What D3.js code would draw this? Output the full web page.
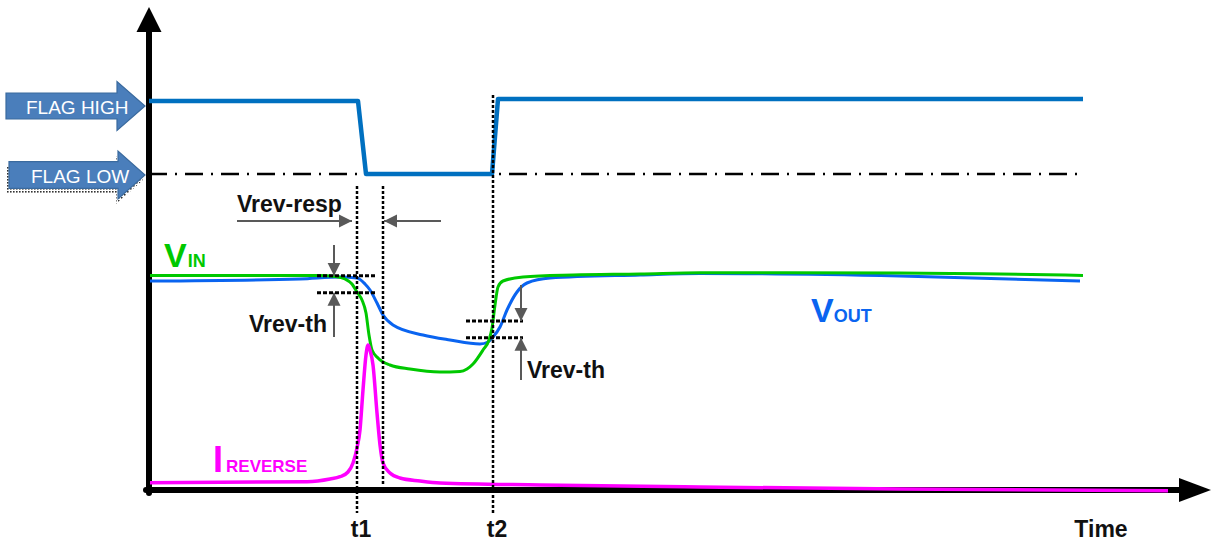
<!DOCTYPE html>
<html>
<head>
<meta charset="utf-8">
<script src="https://cdn.jsdelivr.net/npm/d3@7"></script>
<style>
  html, body { margin: 0; padding: 0; background: #ffffff; }
  svg { display: block; }
  text { font-family: "Liberation Sans", Arial, sans-serif; }
</style>
</head>
<body>
<svg id="chart" width="1211" height="542"></svg>
<script>
// ---------------- data (time units, signal units) ----------------
const flagT = [0, 20.9, 21.7, 34.3, 34.9, 93.4];
const flagV = [38.9, 38.9, 31.6, 31.6, 39.1, 39.1];
const flagLevels = [38.9, 31.6];
const flagLabels = ["FLAG HIGH", "FLAG LOW"];

const vinT = [0.1, 17.1, 18.6, 19.6, 20.3, 20.8, 21.3, 21.7, 22.0, 22.3, 22.9, 24.1, 26.1, 29.1, 31.1, 31.8, 32.4, 33.4, 34.0, 34.3, 34.6, 34.9, 35.4, 37.4, 42.4, 49.1, 55.1, 75.1, 93.4];
const vinV = [21.45, 21.45, 21.35, 21.1, 20.6, 19.8, 19.0, 17.7, 15.5, 14.0, 13.2, 12.5, 12.1, 11.8, 11.85, 12.1, 12.6, 14.0, 15.0, 16.2, 18.5, 20.3, 20.9, 21.3, 21.5, 21.6, 21.73, 21.7, 21.45];

const voutT = [0.1, 15.1, 19.1, 20.8, 21.6, 22.1, 22.8, 23.4, 24.4, 27.4, 30.1, 33.1, 33.9, 34.4, 35.1, 35.8, 36.8, 37.8, 40.1, 49.1, 55.1, 75.1, 93.1];
const voutV = [20.9, 21.1, 21.3, 21.2, 20.6, 20.0, 18.7, 17.5, 16.5, 15.5, 15.0, 14.6, 14.8, 15.3, 16.3, 18.0, 19.8, 20.7, 21.2, 21.5, 21.65, 21.4, 20.9];

const irevT = [0.1, 15.8, 18.1, 19.1, 19.9, 20.4, 20.8, 21.1, 21.4, 21.7, 21.9, 22.1, 22.4, 22.8, 23.1, 23.4, 24.1, 25.1, 27.1, 29.1, 39.1, 55.1, 75.1, 101.9];
const irevV = [0.73, 0.83, 1.1, 1.33, 1.8, 2.7, 4.2, 6.0, 10.0, 13.5, 14.5, 14.0, 12.5, 7.7, 4.5, 2.7, 1.7, 1.2, 0.9, 0.7, 0.5, 0.3, 0.1, -0.07];

const tickLabels = ["t1", "t2"];
const tickTimes = [20.8, 34.4];
const respTime = 23.4;
const axisTitle = "Time";

// thresholds around t1 and t2
const thT1 = [21.43, 19.73];
const thT2 = [16.9, 15.23];

// ---------------- scales ----------------
const xS = d3.scaleLinear().domain([0, 106]).range([149, 1209]);
const yS = d3.scaleLinear().domain([0, 42]).range([490, 70]);

const svg = d3.select("#chart");
const defs = svg.append("defs");

// dotted shadow pattern
const pat = defs.append("pattern").attr("id", "dots").attr("patternUnits", "userSpaceOnUse")
  .attr("width", 3).attr("height", 3);
pat.append("rect").attr("x", 0).attr("y", 0).attr("width", 1.6).attr("height", 1.6).attr("fill", "#333");

// arrow marker (gray)
defs.append("marker").attr("id", "garrow").attr("viewBox", "0 0 10 10")
  .attr("refX", 10).attr("refY", 5).attr("markerWidth", 6.5).attr("markerHeight", 7)
  .attr("markerUnits", "strokeWidth").attr("orient", "auto")
  .append("path").attr("d", "M0,0 L10,5 L0,10 Z").attr("fill", "#595959");

// ---------------- axes ----------------
const x0 = xS(0), yBase = yS(0);
svg.append("line").attr("x1", x0).attr("y1", yBase + 3).attr("x2", x0).attr("y2", 28)
  .attr("stroke", "#000").attr("stroke-width", 6).attr("stroke-linecap", "round");
svg.append("path").attr("d", `M${x0},7 L${x0 - 12.5},32 L${x0 + 12.5},32 Z`).attr("fill", "#000");
svg.append("line").attr("x1", x0 - 3).attr("y1", yBase).attr("x2", 1182).attr("y2", yBase)
  .attr("stroke", "#000").attr("stroke-width", 6).attr("stroke-linecap", "round");
svg.append("path").attr("d", `M1211,${yBase} L1179,${yBase - 12} L1179,${yBase + 12} Z`).attr("fill", "#000");

// ---------------- flag level arrows ----------------
function arrowPath(xa, xb, xh, yc, hb, hh) {
  return `M${xa},${yc - hb} L${xb},${yc - hb} L${xb},${yc - hh} L${xh},${yc} L${xb},${yc + hh} L${xb},${yc + hb} L${xa},${yc + hb} Z`;
}
const arrowSpecs = [
  { xa: 6, xb: 117, xh: 145, dy: 5, hb: 13, hh: 24.5, shadow: false, tx: 26 },
  { xa: 9, xb: 118, xh: 145, dy: 1, hb: 13.3, hh: 24, shadow: true, tx: 31 }
];
flagLevels.forEach((lv, i) => {
  const s = arrowSpecs[i];
  const yc = yS(lv) + s.dy;
  if (s.shadow) {
    svg.append("path").attr("d", arrowPath(s.xa, s.xb, s.xh, yc, s.hb, s.hh))
      .attr("transform", "translate(-2,5)").attr("fill", "url(#dots)");
  }
  svg.append("path").attr("d", arrowPath(s.xa, s.xb, s.xh, yc, s.hb, s.hh))
    .attr("fill", "#4A7EBB").attr("stroke", "#3A6A9E").attr("stroke-width", 1.2);
  svg.append("text").attr("x", s.tx).attr("y", yc + 7.5)
    .attr("fill", "#fff").attr("font-size", 19).text(flagLabels[i]);
});

// flag low reference (dash-dot)
svg.append("line").attr("x1", x0).attr("x2", xS(93.6))
  .attr("y1", yS(flagLevels[1])).attr("y2", yS(flagLevels[1]))
  .attr("stroke", "#000").attr("stroke-width", 2.6).attr("stroke-dasharray", "18,8,2,8");

// ---------------- series ----------------
const zip = (a, b) => a.map((t, i) => [t, b[i]]);
const smooth = d3.line().x(d => xS(d[0])).y(d => yS(d[1])).curve(d3.curveMonotoneX);
const straight = d3.line().x(d => xS(d[0])).y(d => yS(d[1]));

svg.append("path").attr("d", straight(zip(flagT, flagV))).attr("fill", "none")
  .attr("stroke", "#0070C0").attr("stroke-width", 4.5).attr("stroke-linejoin", "round");

svg.append("path").attr("d", smooth(zip(voutT, voutV))).attr("fill", "none")
  .attr("stroke", "#0A64F0").attr("stroke-width", 3);
svg.append("path").attr("d", smooth(zip(vinT, vinV))).attr("fill", "none")
  .attr("stroke", "#00C800").attr("stroke-width", 3);
svg.append("path").attr("d", smooth(zip(irevT, irevV))).attr("fill", "none")
  .attr("stroke", "#FF00FF").attr("stroke-width", 3.5);

// ---------------- annotations ----------------
const dotted = (t, v1, v2) => svg.append("line").attr("x1", xS(t)).attr("x2", xS(t))
  .attr("y1", yS(v1)).attr("y2", yS(v2)).attr("stroke", "#000").attr("stroke-width", 2.5)
  .attr("stroke-dasharray", "3,2");
dotted(tickTimes[0], 30.4, -2.3);
dotted(respTime, 30.4, 0.5);
dotted(tickTimes[1], 39.5, -2.3);

const hdash = (t1, t2, v) => svg.append("line").attr("x1", xS(t1)).attr("x2", xS(t2))
  .attr("y1", yS(v)).attr("y2", yS(v)).attr("stroke", "#000").attr("stroke-width", 3)
  .attr("stroke-dasharray", "4,2");
thT1.forEach(v => hdash(16.8, 22.6, v));
thT2.forEach(v => hdash(31.7, 37.4, v));

const garrow = (tA, vA, tB, vB) => svg.append("line")
  .attr("x1", xS(tA)).attr("y1", yS(vA)).attr("x2", xS(tB)).attr("y2", yS(vB))
  .attr("stroke", "#595959").attr("stroke-width", 2).attr("marker-end", "url(#garrow)");
garrow(8.8, 26.9, 20.3, 26.9);
garrow(29.2, 26.9, 23.5, 26.9);
garrow(18.5, 24.5, 18.5, thT1[0]);
garrow(18.5, 15.3, 18.5, thT1[1]);
garrow(37.2, 20.5, 37.2, thT2[0]);
garrow(37.2, 11.0, 37.2, thT2[1]);

const lbl = (x, y, s, size) => svg.append("text").attr("x", x).attr("y", y)
  .attr("font-weight", "bold").attr("font-size", size || 23).attr("fill", "#111").text(s);
lbl(xS(8.8), yS(27.8), "Vrev-resp");
lbl(249, yS(15.83), "Vrev-th");
lbl(527, yS(11.2), "Vrev-th");

// series labels
function subLabel(x, y, big, small, color, bigSize, smallSize, dx) {
  const t = svg.append("text").attr("x", x).attr("y", y).attr("fill", color).attr("font-weight", "bold");
  t.append("tspan").attr("font-size", bigSize).text(big);
  t.append("tspan").attr("font-size", smallSize).attr("dx", dx).text(small);
}
subLabel(164, 267, "V", "IN", "#00C800", 34, 18, 1);
subLabel(811, 322, "V", "OUT", "#0A64F0", 34, 18, 0);
subLabel(213, 472, "I", "REVERSE", "#FF00FF", 36, 17, 3);

// tick labels
tickLabels.forEach((s, i) => {
  svg.append("text").attr("x", xS(tickTimes[i]) + 4).attr("y", 537).attr("text-anchor", "middle")
    .attr("font-weight", "bold").attr("font-size", 23).attr("fill", "#111").text(s);
});
svg.append("text").attr("x", 1101).attr("y", 537).attr("text-anchor", "middle")
  .attr("font-weight", "bold").attr("font-size", 23).attr("fill", "#111").text(axisTitle);
</script>
</body>
</html>
